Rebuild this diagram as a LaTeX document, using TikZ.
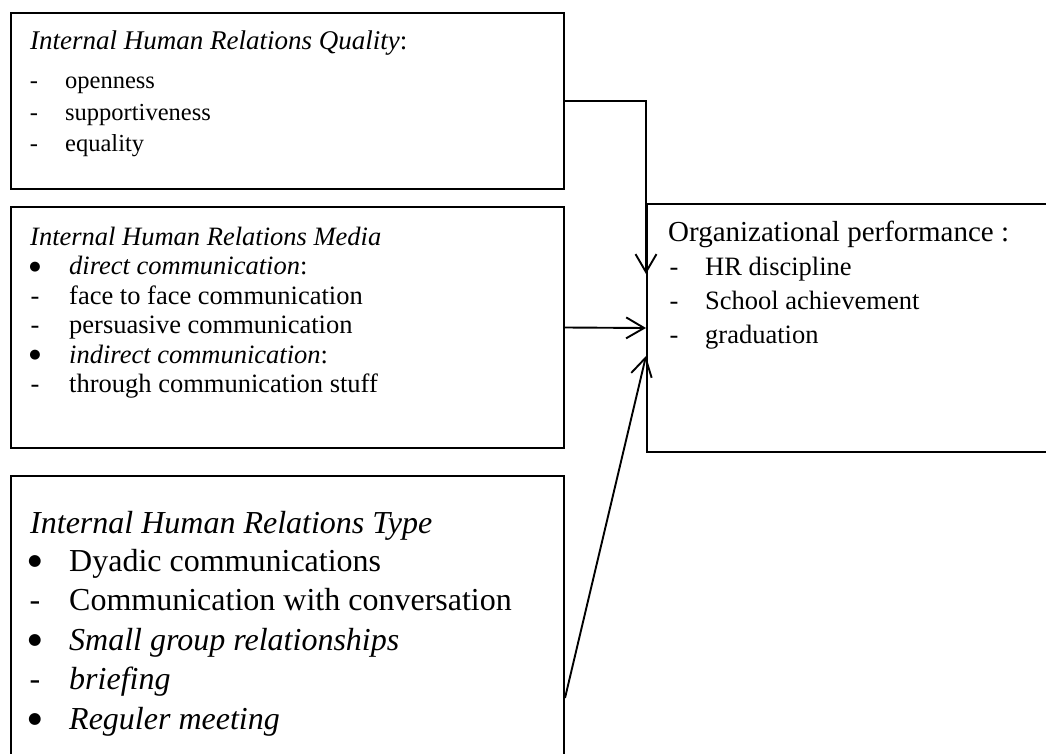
\documentclass[tikz,border=0pt]{standalone}
\usepackage{fontspec}
\setmainfont{Liberation Serif}
\newfontfamily\symfont{DejaVu Sans}
\usetikzlibrary{arrows.meta}

% bullet glyph, size given in px
\newcommand{\bul}[1]{{\symfont\fontsize{#1}{#1}\selectfont\raisebox{0.33em}{●}}}

\tikzset{
    box/.style={draw, line width=2pt, rectangle, anchor=north west, inner sep=0pt},
    txt/.style={anchor=base west, inner sep=0pt},
    mark sym/.style={anchor=base, inner sep=0pt},
    conn/.style={line width=1.9pt, -{Straight Barb[length=18pt,width=21pt]}}
}

\begin{document}
\begin{tikzpicture}[x=1pt, y=-1pt]
    \useasboundingbox (0,0) rectangle (1046,754);

    % Boxes
    \node[box, minimum width=553pt, minimum height=176pt] (qual) at (10,12) {};
    \node[box, minimum width=553pt, minimum height=241pt] (media) at (10,206) {};
    \node[box, minimum width=553pt, minimum height=444pt] (type) at (10,475) {};
    \node[box, minimum width=430pt, minimum height=248pt] (perf) at (646,203) {};

    % Quality
    \node[txt, font=\fontsize{27}{32}\selectfont] (qualhead) at (30,50)
        {\textit{Internal Human Relations Quality}:};
    \foreach \t [count=\i] in {openness, supportiveness, equality}{
        \node[mark sym, font=\fontsize{24.5}{30}\selectfont] (qualmark\i) at (34,{88.3+31.8*(\i-1)}) {-};
        \node[txt, font=\fontsize{24.5}{30}\selectfont] (qualitem\i) at (65,{88.3+31.8*(\i-1)}) {\t};
    }

    % Media
    \node[txt, font=\fontsize{26.5}{30}\selectfont] (mediahead) at (30,245)
        {\textit{Internal Human Relations Media}};
    \foreach \s/\t [count=\i] in {\bul{13}/\textit{direct communication}:,
            -/face to face communication, -/persuasive communication,
            \bul{13}/\textit{indirect communication}:, -/through communication stuff}{
        \node[mark sym, font=\fontsize{26.5}{30}\selectfont] (mediamark\i) at (35,{274.5+29.5*(\i-1)}) {\s};
        \node[txt, font=\fontsize{26.5}{30}\selectfont] (mediaitem\i) at (69,{274.5+29.5*(\i-1)}) {\t};
    }

    % Type
    \node[txt, font=\fontsize{32}{38}\selectfont] (typehead) at (30,533)
        {\textit{Internal Human Relations Type}};
    \foreach \s/\t [count=\i] in {\bul{15.5}/Dyadic communications,
            -/Communication with conversation, \bul{15.5}/\textit{Small group relationships},
            -/\textit{briefing}, \bul{15.5}/\textit{Reguler meeting}}{
        \node[mark sym, font=\fontsize{32}{38}\selectfont] (typemark\i) at (35,{571+39.5*(\i-1)}) {\s};
        \node[txt, font=\fontsize{32}{38}\selectfont] (typeitem\i) at (69,{571+39.5*(\i-1)}) {\t};
    }

    % Performance
    \node[txt, font=\fontsize{29}{34}\selectfont] (perfhead) at (668,241)
        {Organizational performance :};
    \foreach \t [count=\i] in {HR discipline, School achievement, graduation}{
        \node[mark sym, font=\fontsize{26.5}{30}\selectfont] (perfmark\i) at (674,{275+34*(\i-1)}) {-};
        \node[txt, font=\fontsize{26.5}{30}\selectfont] (perfitem\i) at (705,{275+34*(\i-1)}) {\t};
    }

    % Arrows into performance
    \draw[conn] (qual.east) -| ([yshift=54pt]perf.west);
    \draw[conn] (media.east) -- (perf.west);
    \draw[conn] (type.east) -- ([yshift=-28pt]perf.west);
\end{tikzpicture}
\end{document}
